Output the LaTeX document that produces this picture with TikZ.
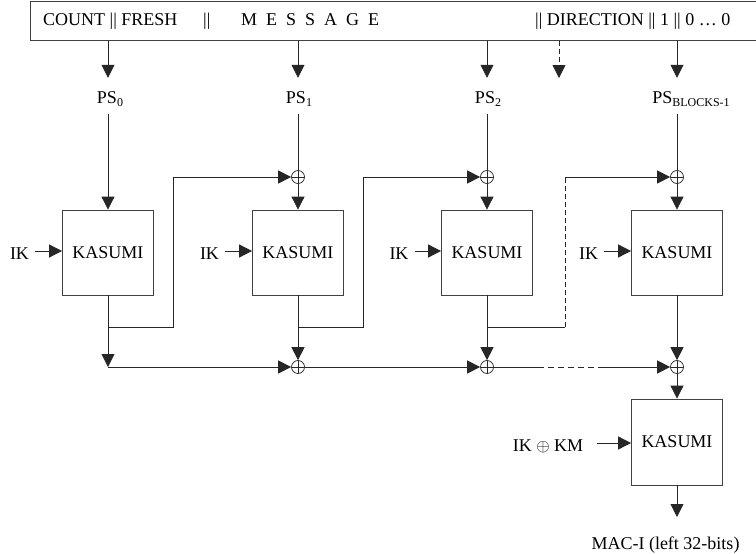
\documentclass[tikz,border=0pt]{standalone}
\usepackage{fontspec}
\setmainfont{Liberation Serif}
\usetikzlibrary{arrows.meta}
\newcommand{\pssub}[1]{PS\raisebox{-3.5pt}{\fontsize{12}{12}\selectfont #1}}
\begin{document}
\begin{tikzpicture}[x=1pt,y=-1pt,
  every node/.style={font=\fontsize{18}{21}\selectfont, inner sep=0pt},
  ln/.style={line width=0.8pt, draw=black!85},
  arr/.style={ln, -{Triangle[length=13pt,width=13pt]}},
  kbox/.style={draw=black!75, line width=0.8pt, minimum width=91pt, minimum height=85pt},
  xor/.style={circle, draw=black!85, line width=0.7pt, minimum size=13pt,
    path picture={\draw[black!85, line width=0.7pt] (path picture bounding box.north) -- (path picture bounding box.south) (path picture bounding box.west) -- (path picture bounding box.east);}},
  pslbl/.style={anchor=base, text height=12pt, text depth=6pt},
  dsh/.style={dash pattern=on 5pt off 3pt}]
\useasboundingbox (0,0) rectangle (756,554);
\clip (0,0) rectangle (756,554);

% top message box
\node[draw=black!75, line width=0.8pt, anchor=north west, minimum width=740pt, minimum height=39pt] (top) at (30,1) {};
\node[anchor=base west] (t1) at (43,25) {COUNT || FRESH};
\node[anchor=base west] (t2) at (203,25) {||};
\node[anchor=base west] (t3) at (241,25) {M\hspace{9pt}E\hspace{9pt}S\hspace{9pt}S\hspace{9pt}A\hspace{9pt}G\hspace{9pt}E};
\node[anchor=base west] (t4) at (535,25) {|| DIRECTION || 1 || 0 … 0};

% PS labels
\node[pslbl] (ps0) at (110,103) {\pssub{0}};
\node[pslbl] (ps1) at (299,103) {\pssub{1}};
\node[pslbl] (ps2) at (488,103) {\pssub{2}};
\node[pslbl] (ps3) at (691,103) {\pssub{BLOCKS-1}};

% KASUMI boxes
\node[kbox] (k1) at (108,252.5) {KASUMI};
\node[kbox] (k2) at (298,252.5) {KASUMI};
\node[kbox] (k3) at (487,252.5) {KASUMI};
\node[kbox] (k4) at (677,252.5) {KASUMI};
\node[kbox, minimum height=86pt] (k5) at (677,442) {KASUMI};

% XORs
\node[xor] (x2t) at (298,177) {};
\node[xor] (x3t) at (487,177) {};
\node[xor] (x4t) at (677,177) {};
\node[xor] (x2b) at (298,367) {};
\node[xor] (x3b) at (487,367) {};
\node[xor] (x4b) at (677,367) {};

% key labels
\node (ik1) at (19.5,254) {IK};
\node (ik2) at (209.5,254) {IK};
\node (ik3) at (399,254) {IK};
\node (ik4) at (588.5,254) {IK};
\node (ikkm) at (548,446) {IK $\oplus$ KM};
\node[anchor=base] (mac) at (665.5,549) {MAC-I (left 32-bits)};

% helper coordinates
\coordinate (dtip) at (559,78);
\coordinate (f1) at (173,327);
\coordinate (f2) at (363,327);
\coordinate (f3) at (565,327);
\coordinate (f3t) at (565,177);
\coordinate (b1) at (108,367);
\coordinate (d1) at (538,367);
\coordinate (d2) at (598,367);
\coordinate (outtip) at (677,517);

% arrows from message box
\draw[arr, shorten >=13pt] (top.south -| k1) -- (ps0.north -| k1);
\draw[arr, shorten >=13pt] (top.south -| k2) -- (ps1.north -| k2);
\draw[arr, shorten >=13pt] (top.south -| k3) -- (ps2.north -| k3);
\draw[arr, shorten >=13pt] (top.south -| k4) -- (ps3.north -| k4);
\draw[arr, dsh] (top.south -| dtip) -- (dtip);

% PS to blocks
\draw[arr, shorten <=5pt] (ps0.south -| k1) -- (k1.north);
\draw[ln, shorten <=5pt] (ps1.south -| x2t) -- (x2t.north);
\draw[ln, shorten <=5pt] (ps2.south -| x3t) -- (x3t.north);
\draw[ln, shorten <=5pt] (ps3.south -| x4t) -- (x4t.north);
\draw[arr] (x2t.south) -- (k2.north);
\draw[arr] (x3t.south) -- (k3.north);
\draw[arr] (x4t.south) -- (k4.north);

% IK inputs
\draw[arr, shorten <=6pt] ([yshift=3pt]ik1.east) -- ([yshift=3pt]ik1.east -| k1.west);
\draw[arr, shorten <=6pt] ([yshift=3pt]ik2.east) -- ([yshift=3pt]ik2.east -| k2.west);
\draw[arr, shorten <=6pt] ([yshift=3pt]ik3.east) -- ([yshift=3pt]ik3.east -| k3.west);
\draw[arr, shorten <=6pt] ([yshift=3pt]ik4.east) -- ([yshift=3pt]ik4.east -| k4.west);
\draw[arr, shorten <=14pt] ([yshift=3pt]ikkm.east) -- ([yshift=3pt]ikkm.east -| k5.west);

% feedback chains
\draw[arr] (k1.south) |- (f1) |- (x2t.west);
\draw[arr] (k2.south) |- (f2) |- (x3t.west);
\draw[ln] (k3.south) |- (f3);
\draw[ln, dsh] (f3) -- (f3t);
\draw[arr] (f3t) -- (x4t.west);

% accumulation chain
\draw[arr] (k1.south) -- (b1);
\draw[arr] (b1) -- (x2b.west);
\draw[arr] (k2.south) -- (x2b.north);
\draw[arr] (k3.south) -- (x3b.north);
\draw[arr] (k4.south) -- (x4b.north);
\draw[arr] (x2b.east) -- (x3b.west);
\draw[ln] (x3b.east) -- (d1);
\draw[ln, dash pattern=on 6pt off 4pt] (d1) -- (d2);
\draw[arr] (d2) -- (x4b.west);
\draw[arr] (x4b.south) -- (k5.north);
\draw[arr] (k5.south) -- (outtip);
\end{tikzpicture}
\end{document}
